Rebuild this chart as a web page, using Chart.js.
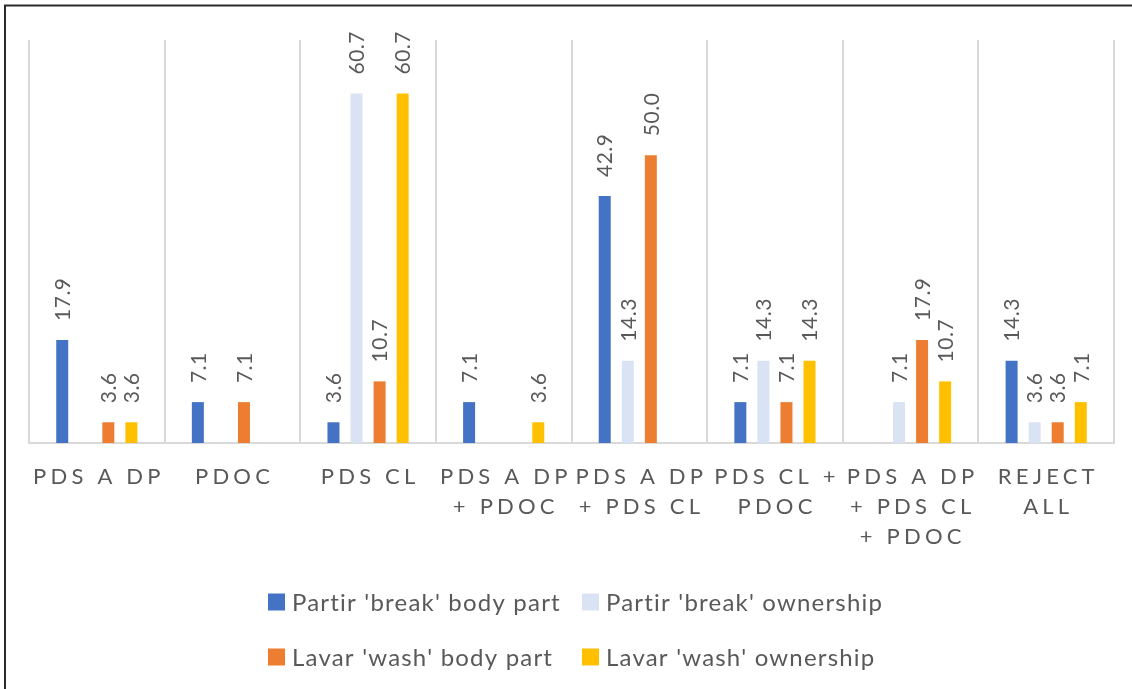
<!DOCTYPE html>
<html>
<head>
<meta charset="utf-8">
<script src="https://cdn.jsdelivr.net/npm/chart.js@4/dist/chart.umd.min.js"></script>
<style>
  html, body { margin: 0; padding: 0; background: #ffffff; }
  #wrap { width: 1132px; height: 689px; position: relative; }
</style>
</head>
<body>
<div id="wrap"><canvas id="c" width="1132" height="689"></canvas></div>
<script>
// Category labels, one array entry per text line
const categories = [
  ["PDS A DP"],
  ["PDOC"],
  ["PDS CL"],
  ["PDS A DP", "+ PDOC"],
  ["PDS A DP", "+ PDS CL"],
  ["PDS CL +", "PDOC"],
  ["PDS A DP", "+ PDS CL", "+ PDOC"],
  ["REJECT", "ALL"]
];

// Percentages per series (null = no response)
const partirBodyPart  = [17.9, 7.1, 3.6, 7.1, 42.9, 7.1, null, 14.3];
const partirOwnership = [null, null, 60.7, null, 14.3, 14.3, 7.1, 3.6];
const lavarBodyPart   = [3.6, 7.1, 10.7, null, 50.0, 7.1, 17.9, 3.6];
const lavarOwnership  = [3.6, null, 60.7, 3.6, null, 14.3, 10.7, 7.1];

const seriesNames = [
  "Partir 'break' body part",
  "Partir 'break' ownership",
  "Lavar 'wash' body part",
  "Lavar 'wash' ownership"
];
const seriesColors = ["#4472C4", "#DAE3F3", "#ED7D31", "#FFC000"];

const TEXT = "#595959";
const FONT = "Lato, 'Open Sans', sans-serif";

// Dark frame along the left and top edges
const framePlugin = {
  id: "frame",
  beforeDraw(chart) {
    const ctx = chart.ctx;
    ctx.save();
    ctx.fillStyle = "#ffffff";
    ctx.fillRect(0, 0, chart.width, chart.height);
    ctx.strokeStyle = "#2b2b2b";
    ctx.lineWidth = 2;
    ctx.beginPath();
    ctx.moveTo(5, chart.height);
    ctx.lineTo(5, 5.5);
    ctx.lineTo(chart.width, 5.5);
    ctx.stroke();
    ctx.restore();
  }
};

// Rotated value labels above each bar
const valueLabels = {
  id: "valueLabels",
  afterDatasetsDraw(chart) {
    const ctx = chart.ctx;
    ctx.save();
    ctx.font = "21px " + FONT;
    ctx.fillStyle = TEXT;
    ctx.textAlign = "left";
    ctx.textBaseline = "middle";
    ctx.letterSpacing = "0.5px";
    chart.data.datasets.forEach((ds, di) => {
      const meta = chart.getDatasetMeta(di);
      meta.data.forEach((bar, i) => {
        const v = ds.data[i];
        if (v === null || v === undefined || v === 0) return;
        ctx.save();
        ctx.translate(bar.x, bar.y - 19);
        ctx.rotate(-Math.PI / 2);
        ctx.fillText(v.toFixed(1), 0, 1);
        ctx.restore();
      });
    });
    ctx.restore();
  }
};

// Letter-spaced, multi-line category labels under the axis
const categoryLabels = {
  id: "categoryLabels",
  afterDraw(chart) {
    const ctx = chart.ctx;
    const xs = chart.scales.x;
    const spacing = 4.2;
    ctx.save();
    ctx.font = "22px " + FONT;
    ctx.fillStyle = TEXT;
    ctx.textAlign = "left";
    ctx.textBaseline = "middle";
    ctx.letterSpacing = spacing + "px";
    categories.forEach((lines, i) => {
      const cx = xs.getPixelForValue(i);
      lines.forEach((line, j) => {
        const w = ctx.measureText(line).width - spacing;
        ctx.fillText(line, cx - w / 2, chart.chartArea.bottom + 34 + j * 30);
      });
    });
    ctx.restore();
  }
};

// Two-column legend below the plot
const gridLegend = {
  id: "gridLegend",
  afterDraw(chart) {
    const ctx = chart.ctx;
    const colX = [268, 582];
    const rowY = [602, 657];
    ctx.save();
    ctx.font = "24px " + FONT;
    ctx.textAlign = "left";
    ctx.textBaseline = "middle";
    ctx.letterSpacing = "1.2px";
    chart.data.datasets.forEach((ds, i) => {
      const x = colX[i % 2];
      const y = rowY[Math.floor(i / 2)];
      ctx.fillStyle = ds.backgroundColor;
      ctx.fillRect(x, y - 8.5, 17, 17);
      ctx.fillStyle = TEXT;
      ctx.fillText(ds.label, x + 24, y + 1);
    });
    ctx.restore();
  }
};

const seriesData = [partirBodyPart, partirOwnership, lavarBodyPart, lavarOwnership];

new Chart(document.getElementById("c"), {
  type: "bar",
  data: {
    labels: categories.map(l => l.join(" ")),
    datasets: seriesData.map((d, i) => ({
      label: seriesNames[i],
      data: d,
      backgroundColor: seriesColors[i],
      borderWidth: 0,
      categoryPercentage: 0.68,
      barPercentage: 0.52
    }))
  },
  options: {
    responsive: false,
    animation: false,
    events: [],
    layout: { padding: { left: 29, right: 18, top: 40, bottom: 0 } },
    plugins: {
      legend: { display: false },
      tooltip: { enabled: false },
      title: { display: false }
    },
    scales: {
      x: {
        grid: {
          offset: true,
          color: "#d9d9d9",
          lineWidth: 2,
          drawTicks: false
        },
        border: { display: true, color: "#d9d9d9", width: 2 },
        ticks: { display: false },
        afterFit(scale) { scale.height = 246; }
      },
      y: {
        display: false,
        min: 0,
        max: 70
      }
    }
  },
  plugins: [framePlugin, valueLabels, categoryLabels, gridLegend]
});
</script>
</body>
</html>
